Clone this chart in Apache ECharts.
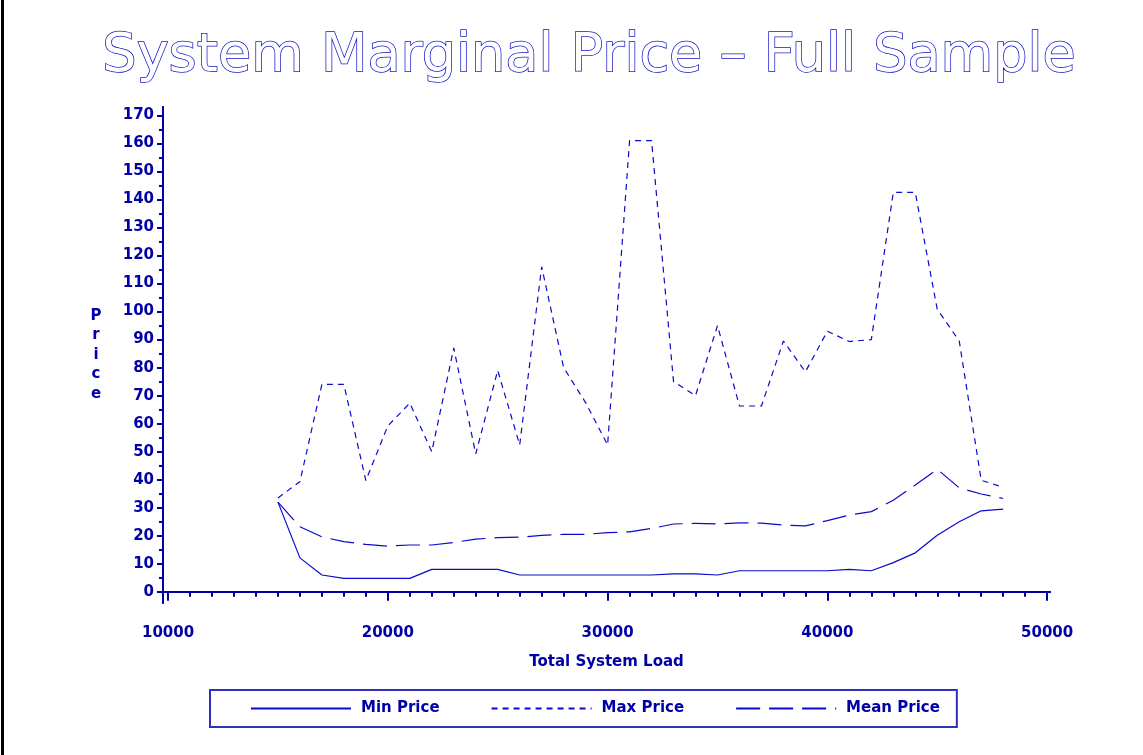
<!DOCTYPE html>
<html>
<head>
<meta charset="utf-8">
<script src="https://cdn.jsdelivr.net/npm/echarts@6/dist/echarts.min.js"></script>
<style>
html,body{margin:0;padding:0;background:#fff;}
#chart{width:1143px;height:755px;}
</style>
</head>
<body>
<div id="chart"></div>
<script>
const loads = [15000,16000,17000,18000,19000,20000,21000,22000,23000,24000,25000,26000,27000,28000,29000,30000,31000,32000,33000,34000,35000,36000,37000,38000,39000,40000,41000,42000,43000,44000,45000,46000,47000,48000];
const minPrice = [32,12.1,6,4.8,4.8,4.8,4.8,8,8,8,8,6,6,6,6,6,6,6,6.4,6.4,6,7.5,7.5,7.5,7.5,7.5,8,7.5,10.4,13.9,20.2,25,28.9,29.5];
const maxPrice = [33.5,39.3,74,74,39.7,59.2,67.3,50,87,49.2,79,52.4,116,80,67.5,52.4,161,161,75,70,95,66.3,66.3,89.5,78.5,93,89.3,90,142.5,142.5,100.8,89.5,39.8,37.3];
const meanPrice = [32,23.2,19.6,17.9,16.9,16.3,16.7,16.7,17.6,18.8,19.3,19.5,20.1,20.5,20.5,21.1,21.4,22.6,24.2,24.4,24.2,24.6,24.5,23.8,23.5,25.4,27.4,28.6,32.7,38.1,43.7,37.1,34.9,33.3];
const yTickLabels = [0,10,20,30,40,50,60,70,80,90,100,110,120,130,140,150,160,170];
const yMinorTicks = [5,15,25,35,45,55,65,75,85,95,105,115,125,135,145,155,165];
const xTickLabels = [10000,20000,30000,40000,50000];
const xMinorTicks = [11000,12000,13000,14000,15000,16000,17000,18000,19000,21000,22000,23000,24000,25000,26000,27000,28000,29000,31000,32000,33000,34000,35000,36000,37000,38000,39000,41000,42000,43000,44000,45000,46000,47000,48000,49000];

const C = '#0000a8';
const LINE = '#0a0acc';
const font = 'DejaVu Sans';
const zip = (xs, ys) => xs.map((x, i) => [x, ys[i]]);
const txt = {color: C, fontFamily: font, fontSize: 15, fontWeight: 'bold'};

const chart = echarts.init(document.getElementById('chart'), null, {renderer: 'canvas'});
const axisCommon = {
  axisLine: {show: true, lineStyle: {color: C, width: 2}},
  splitLine: {show: false}
};
chart.setOption({
  animation: false,
  backgroundColor: '#fff',
  title: {
    text: 'System Marginal Price \u2013 Full Sample',
    left: 584, top: 25, textAlign: 'center',
    textStyle: {fontFamily: font, fontSize: 54, fontWeight: 'normal', color: '#ffffff',
      textBorderColor: '#1010c8', textBorderWidth: 1.5}
  },
  graphic: [{type: 'rect', shape: {x: 1, y: 0, width: 3, height: 755}, style: {fill: '#000'}}],
  grid: {left: 163, right: 93, top: 107, bottom: 152, containLabel: false},
  xAxis: [{
    type: 'value', min: 9770, max: 50130,
    ...axisCommon,
    axisTick: {show: true, customValues: xTickLabels, length: 9, lineStyle: {color: C, width: 2}},
    axisLabel: {customValues: xTickLabels, ...txt, margin: 23, formatter: v => String(v)},
    name: 'Total System Load', nameLocation: 'middle', nameGap: 52,
    nameTextStyle: {...txt}
  }, {
    type: 'value', min: 9770, max: 50130, position: 'bottom',
    ...axisCommon,
    axisTick: {show: true, customValues: xMinorTicks, length: 5, lineStyle: {color: C, width: 2}},
    axisLabel: {show: false}
  }],
  yAxis: [{
    type: 'value', min: -4, max: 173,
    ...axisCommon,
    axisTick: {show: true, customValues: yTickLabels, length: 6, lineStyle: {color: C, width: 2}},
    axisLabel: {customValues: yTickLabels, ...txt, margin: 9},
    name: 'P\nr\ni\nc\ne', nameLocation: 'middle', nameGap: 67, nameRotate: 0,
    nameTextStyle: {...txt, lineHeight: 19.5, align: 'center'}
  }, {
    type: 'value', min: -4, max: 173, position: 'left',
    ...axisCommon,
    axisTick: {show: true, customValues: yMinorTicks, length: 4, lineStyle: {color: C, width: 2}},
    axisLabel: {show: false}
  }],
  legend: {
    left: 210, top: 690,
    padding: [11, 17, 11, 40],
    itemGap: 51, itemWidth: 100, itemHeight: 14,
    borderColor: '#3030c0', borderWidth: 2,
    itemStyle: {opacity: 0},
    lineStyle: {width: 2},
    textStyle: {...txt, padding: [0, 0, 0, 5]},
    data: ['Min Price', 'Max Price', 'Mean Price']
  },
  series: [
    {name: 'Min Price', type: 'line', symbol: 'none', data: zip(loads, minPrice),
      lineStyle: {color: LINE, width: 1.2, type: 'solid'}, itemStyle: {color: LINE}},
    {name: 'Max Price', type: 'line', symbol: 'none', data: zip(loads, maxPrice),
      lineStyle: {color: LINE, width: 1.2, type: [6, 5]}, itemStyle: {color: LINE}},
    {name: 'Mean Price', type: 'line', symbol: 'none', data: zip(loads, meanPrice),
      lineStyle: {color: LINE, width: 1.2, type: [24, 9]}, itemStyle: {color: LINE}}
  ]
});
</script>
</body>
</html>
